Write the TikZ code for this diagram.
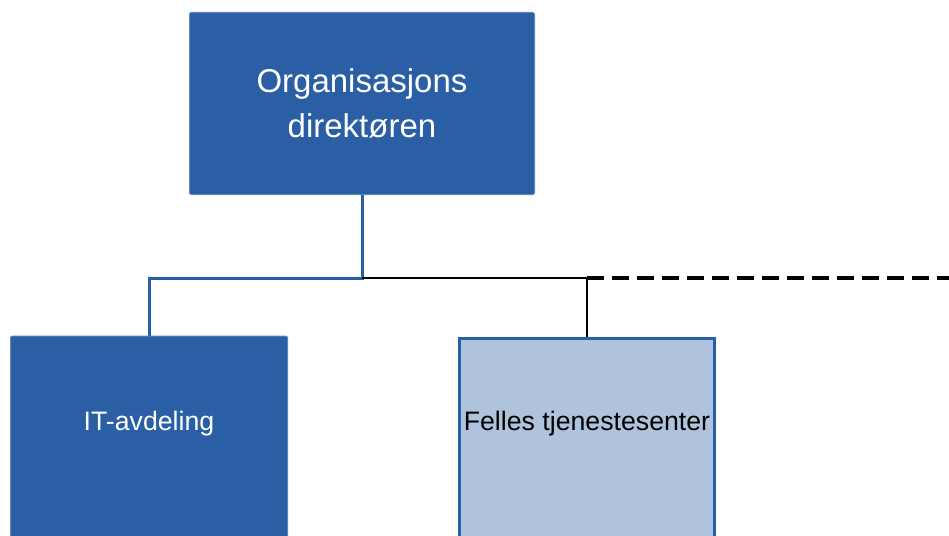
\documentclass[tikz,border=0pt]{standalone}
\usepackage{fontspec}
\setmainfont{Liberation Sans}
\usetikzlibrary{calc, positioning}
\definecolor{orgblue}{HTML}{2A5FA5}
\definecolor{paleblue}{HTML}{B0C3DC}
\tikzstyle{head} = [rectangle, draw=orgblue!75!white, line width=1pt, fill=orgblue, text=white, rounded corners=2pt, minimum width=345pt, minimum height=182pt, align=center, font=\fontsize{33}{45}\selectfont]
\tikzstyle{unit} = [rectangle, draw=orgblue!75!white, line width=1pt, fill=orgblue, text=white, rounded corners=2pt, minimum width=277pt, inner sep=0pt, text height=94pt, text depth=200pt, font=\fontsize{26.7}{32}\selectfont]
\tikzstyle{service} = [rectangle, draw=orgblue, line width=3pt, fill=paleblue, text=black, minimum width=255pt, inner sep=0pt, text height=92pt, text depth=200pt, font=\fontsize{26.7}{32}\selectfont]
\tikzstyle{blueline} = [draw=orgblue, line width=3pt]
\tikzstyle{blackline} = [draw=black, line width=2pt]
\tikzstyle{dashline} = [draw=black, line width=4pt, dash pattern=on 17pt off 8pt]

\begin{document}
\begin{tikzpicture}
        \useasboundingbox[fill=white] (0,0) rectangle (949pt,-535pt);

        \node[head] (top) at (362pt,-103.5pt) {Organisasjons\\direktøren};

        \coordinate[below=83pt of top] (split);

        \node[unit, anchor=north] (it) at (149pt,-335.5pt) {IT-avdeling};

        \node[service, anchor=north] (fts) at (587pt,-336.5pt) {Felles tjenestesenter};

        \path[blueline] (top) -- (split) -| (it);
        \path[blackline] (split) -| (fts);

        \coordinate (dashend) at (949pt,-278pt);
        \path[dashline] (split -| fts) -- (dashend);
    \end{tikzpicture}
\end{document}
